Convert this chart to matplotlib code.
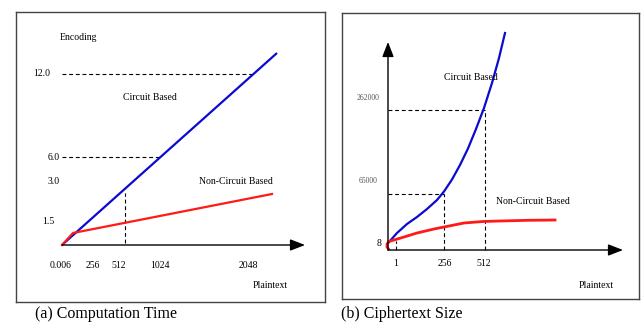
import matplotlib.pyplot as plt

plt.rcParams['font.family'] = ['Liberation Serif', 'DejaVu Serif']

# Schematic figure: both panels use unitless "sketch" coordinates
# (origin at the axes crossing, roughly one unit per pixel).

# (a) Computation Time
a_circuit_x = [0, 215]
a_circuit_y = [0, 192]
a_noncircuit_x = [0, 11, 210]
a_noncircuit_y = [0, 12, 51]
a_ytick_labels = ['12.0', '6.0', '3.0', '1.5']
a_ytick_pos = [171, 87, 64, 23]
a_xtick_labels = ['0.006', '256', '512', '1024', '2048']
a_xtick_pos = [-1, 31, 57, 98, 186]

# (b) Ciphertext Size
b_circuit_x = [1, 9, 19, 29, 39, 49, 56, 64, 72, 80, 88, 96, 104, 111, 117]
b_circuit_y = [8, 17, 26, 33, 41, 50, 58.5, 70.5, 85, 101.5, 121, 142, 167, 192, 217]
b_noncircuit_x = [0.5, -1, -1, 1, 6, 16, 29, 46, 56, 76, 95, 112, 140, 167]
b_noncircuit_y = [1, 3, 6, 8.5, 10, 13, 17, 21, 23, 27, 28.5, 29, 29.7, 30]
b_ytick_labels = ['262000', '65000', '8']
b_ytick_pos = [152, 69, 7]
b_xtick_labels = ['1', '256', '512']
b_xtick_pos = [8, 57, 96]

W, H = 643, 323
fig = plt.figure(figsize=(W / 100, H / 100), dpi=100)


def panel(box, origin):
    # box = (left, top, right, bottom) in pixels, origin = axis crossing in pixels
    l, t, r, b = box
    ox, oy = origin
    ax = fig.add_axes([l / W, (H - b) / H, (r - l) / W, (b - t) / H])
    ax.set_xlim(l - ox, r - ox)
    ax.set_ylim(oy - b, oy - t)
    ax.set_xticks([])
    ax.set_yticks([])
    for s in ax.spines.values():
        s.set_color('#444444')
        s.set_linewidth(1.0)
    return ax


def arrow(ax, x0, y0, x1, y1):
    ax.annotate('', xy=(x1, y1), xytext=(x0, y0),
                arrowprops=dict(arrowstyle='-|>,head_length=0.9,head_width=0.35',
                                color='black', lw=1.0, shrinkA=0, shrinkB=0))


dash = dict(color='black', lw=0.8, ls=(0, (3.5, 2.5)))
lbl = dict(fontsize=7, ha='center', va='center')

# ---- panel (a)
ax = panel((16, 12, 325, 302), (62, 245))
arrow(ax, 0, 0, 243, 0)
ax.plot([0, 191], [171, 171], **dash)
ax.plot([0, 98], [88, 88], **dash)
ax.plot([63, 63], [2, 52], **dash)
ax.plot(a_circuit_x, a_circuit_y, color='#0a0ad0', lw=1.6, solid_capstyle='butt')
ax.plot(a_noncircuit_x, a_noncircuit_y, color='#ff1a1a', lw=1.6)
for t, y in zip(a_ytick_labels, a_ytick_pos):
    ax.text(-2 if t in ('6.0', '3.0') else (-8 if t == '1.5' else -12), y, t,
            fontsize=7, ha='right', va='center')
for t, x in zip(a_xtick_labels, a_xtick_pos):
    ax.text(x, -20, t, **lbl)
ax.text(16, 207, 'Encoding', **lbl)
ax.text(88, 148, 'Circuit Based', **lbl)
ax.text(174, 64, 'Non-Circuit Based', **lbl)
ax.text(208, -40, 'Plaintext', **lbl)

# ---- panel (b)
ax = panel((342, 13, 639, 299), (388, 250))
arrow(ax, 0, 0, 235, 0)
arrow(ax, 0, 0, 0, 208)
ax.plot([0, 97], [140, 140], **dash)
ax.plot([97, 97], [0, 140], **dash)
ax.plot([0, 56], [56, 56], **dash)
ax.plot([56, 56], [0, 56], **dash)
ax.plot([8, 8], [0, 9], **dash)
ax.plot(b_circuit_x, b_circuit_y, color='#0a0ad0', lw=1.6,
        solid_joinstyle='round')
ax.plot(b_noncircuit_x, b_noncircuit_y, color='#ff1a1a', lw=2.0,
        solid_joinstyle='round')
for t, y in zip(b_ytick_labels, b_ytick_pos):
    if t == '8':
        ax.text(-9, y, t, **lbl)
    else:
        ax.text(-20, y, t, fontsize=5.5, color='#555555', ha='center', va='center')
for t, x in zip(b_xtick_labels, b_xtick_pos):
    ax.text(x, -14, t, **lbl)
ax.text(83, 173, 'Circuit Based', **lbl)
ax.text(145, 49, 'Non-Circuit Based', **lbl)
ax.text(208, -35, 'Plaintext', **lbl)

# captions
fig.text(35 / W, 1 - 314 / H, '(a) Computation Time', fontsize=11.5, ha='left', va='center')
fig.text(341 / W, 1 - 314 / H, '(b) Ciphertext Size', fontsize=11.5, ha='left', va='center')

fig.savefig('out.png', dpi=100, facecolor='white')
